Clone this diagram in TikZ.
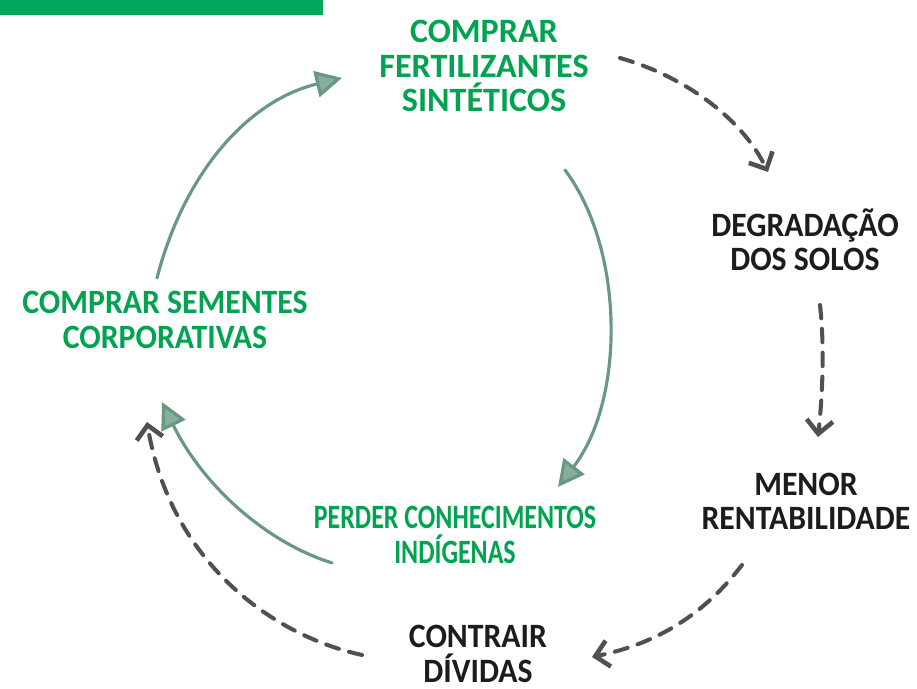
\documentclass[tikz,border=0pt]{standalone}
\usepackage{fontspec}
\newfontfamily\hand{Carlito}[BoldFont={* Bold}]
\newfontfamily\handn{Carlito}[BoldFont={* Bold}, FakeStretch=0.93]
\newfontfamily\handc{Carlito}[BoldFont={* Bold}, FakeStretch=0.76]
\usetikzlibrary{arrows.meta}
\definecolor{brandgreen}{RGB}{0,166,90}
\definecolor{txtgreen}{RGB}{0,163,80}
\definecolor{txtblack}{RGB}{28,28,28}
\definecolor{arcgreen}{RGB}{105,152,130}
\definecolor{dashgrey}{RGB}{80,80,80}
\tikzset{
  lbl/.style={align=center, inner sep=0pt, font=\handn\bfseries\fontsize{9.7}{9.7}\selectfont},
  glbl/.style={lbl, text=txtgreen},
  klbl/.style={lbl, text=txtblack},
  solidarc/.style={draw=arcgreen, line width=0.9pt, line cap=round,
    -{Triangle[length=7.5pt,width=7.5pt,fill=arcgreen!80!white]}},
  dasharc/.style={draw=dashgrey, line width=1.15pt, line cap=round, dash pattern=on 3.8pt off 3pt,
    -{Straight Barb[length=3.8pt,width=7.5pt,line width=1.3pt]}}
}
\begin{document}
\begin{tikzpicture}[x=0.01cm,y=-0.01cm]
\useasboundingbox (0,0) rectangle (917,689);
\fill[brandgreen] (0,0) rectangle (323,15);

\node[glbl, font=\hand\bfseries\fontsize{9.7}{9.7}\selectfont] (fert) at (484,66) {COMPRAR\\FERTILIZANTES\\SINTÉTICOS};
\node[klbl] (degr) at (805,240) {DEGRADAÇÃO\\DOS SOLOS};
\node[klbl] (menor) at (806,501) {MENOR\\RENTABILIDADE};
\node[klbl] (contr) at (478,654) {CONTRAIR\\DÍVIDAS};
\node[glbl] (sem) at (165,320) {COMPRAR SEMENTES\\CORPORATIVAS};
\node[glbl, font=\handc\bfseries\fontsize{9.7}{9.7}\selectfont] (perd) at (455,535) {PERDER CONHECIMENTOS\\INDÍGENAS};

\coordinate (a1s) at (157,278); \coordinate (a1e) at (342,78);
\coordinate (a2s) at (565,170); \coordinate (a2e) at (558,487);
\coordinate (a3s) at (332,563); \coordinate (a3e) at (162,402);
\coordinate (d1s) at (620,58);  \coordinate (d1e) at (768,172);
\coordinate (d2s) at (820,305); \coordinate (d2e) at (818,437);
\coordinate (d3s) at (742,565); \coordinate (d3e) at (592,657);
\coordinate (d4s) at (362,655); \coordinate (d4e) at (147,422);

\draw[solidarc] (a1s) .. controls (185,170) and (250,100) .. (a1e);
\draw[solidarc] (a2s) .. controls (625,250) and (625,400) .. (a2e);
\draw[solidarc] (a3s) .. controls (260,540) and (200,480) .. (a3e);

\draw[dasharc] (d1s) .. controls (680,75) and (740,115) .. (d1e);
\draw[dasharc] (d2s) .. controls (825,350) and (822,400) .. (d2e);
\draw[dasharc] (d3s) .. controls (700,620) and (650,645) .. (d3e);
\draw[dasharc] (d4s) .. controls (270,635) and (170,560) .. (d4e);
\end{tikzpicture}
\end{document}
